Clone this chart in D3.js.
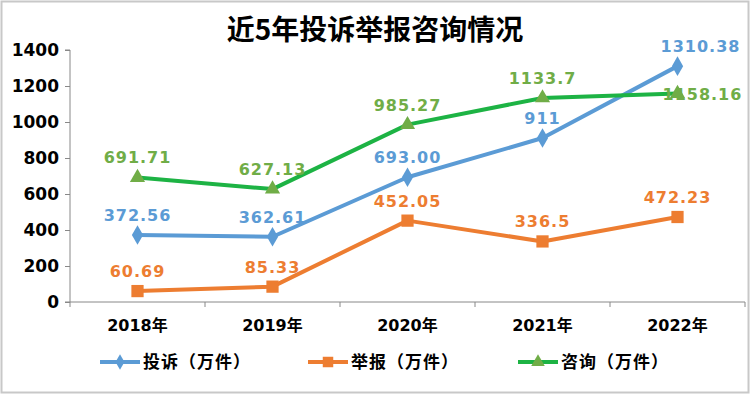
<!DOCTYPE html>
<html><head><meta charset="utf-8">
<script src="https://cdn.jsdelivr.net/npm/d3@7"></script>
<style>
html,body{margin:0;padding:0;background:#fff;}
svg{display:block;}
</style></head>
<body><svg id="c" width="750" height="394"></svg>
<script>
const title = "近5年投诉举报咨询情况";
const categories = ["2018年","2019年","2020年","2021年","2022年"];
const complaints = [372.56, 362.61, 693.00, 911, 1310.38];
const complaintLabels = ["372.56","362.61","693.00","911","1310.38"];
const reports = [60.69, 85.33, 452.05, 336.5, 472.23];
const reportLabels = ["60.69","85.33","452.05","336.5","472.23"];
const consults = [691.71, 627.13, 985.27, 1133.7, 1158.16];
const consultLabels = ["691.71","627.13","985.27","1133.7","1158.16"];
const seriesNames = ["投诉（万件）","举报（万件）","咨询（万件）"];
const yTicks = [0,200,400,600,800,1000,1200,1400];

(function(){
const svg = d3.select("#c");
const W = 750, H = 394;
svg.append("rect").attr("x",1.5).attr("y",1.5).attr("width",W-3).attr("height",H-3)
  .attr("fill","#fff").attr("stroke","#c8c8c8").attr("stroke-width",2);

const pl = 70, pr = 745, pt = 50, pb = 302;
const x = d3.scaleBand().domain(categories).range([pl,pr]);
const y = d3.scaleLinear().domain([0,1400]).range([pb,pt]);

svg.append("text").attr("x",375).attr("y",40).attr("text-anchor","middle")
  .attr("font-family","'Noto Sans CJK SC'").attr("font-weight","bold")
  .attr("font-size",28).attr("fill","#000").text(title);

const yAxis = svg.append("g").attr("transform",`translate(${pl},0)`)
  .call(d3.axisLeft(y).tickValues(yTicks).tickSize(5).tickPadding(6).tickFormat(d3.format("d")));
yAxis.select(".domain").attr("stroke","#888").attr("d",`M-5,${pt}H0V${pb}`);
yAxis.selectAll(".tick line").attr("stroke","#888");
yAxis.selectAll("text").attr("font-family","'DejaVu Sans'").attr("font-weight","bold")
  .attr("font-size",17).attr("fill","#000");

const xg = svg.append("g").attr("transform",`translate(0,${pb})`);
xg.append("line").attr("x1",pl-5).attr("x2",pr).attr("y1",0).attr("y2",0).attr("stroke","#888");
const bounds = categories.map(c=>x(c)).concat([pr]);
xg.selectAll("line.t").data(bounds).enter().append("line").attr("class","t")
  .attr("x1",d=>d).attr("x2",d=>d).attr("y1",0).attr("y2",5).attr("stroke","#888");
xg.selectAll("text").data(categories).enter().append("text")
  .attr("x",d=>x(d)+x.bandwidth()/2).attr("y",29).attr("text-anchor","middle")
  .attr("font-family","'DejaVu Sans','Noto Sans CJK SC'").attr("font-weight","bold")
  .attr("font-size",16).attr("fill","#000").text(d=>d);

const cx = c => x(c)+x.bandwidth()/2;
const line = d3.line().x((d,i)=>cx(categories[i])).y(d=>y(d));

const series = [
  {name:seriesNames[0], vals:complaints, labels:complaintLabels, color:"#5B9BD5", marker:"diamond", mcolor:"#5B9BD5", lcolor:"#5B9BD5"},
  {name:seriesNames[1], vals:reports, labels:reportLabels, color:"#ED7D31", marker:"square", mcolor:"#ED7D31", lcolor:"#ED7D31"},
  {name:seriesNames[2], vals:consults, labels:consultLabels, color:"#1DB344", marker:"triangle", mcolor:"#70AD47", lcolor:"#70AD47"}
];
const symType = {diamond:d3.symbolDiamond, square:d3.symbolSquare, triangle:d3.symbolTriangle};
const symSize = {diamond:110, square:150, triangle:100};
const legSize = {diamond:70, square:110, triangle:80};

series.forEach(s=>{
  svg.append("path").datum(s.vals).attr("d",line).attr("fill","none")
    .attr("stroke",s.color).attr("stroke-width",4).attr("stroke-linejoin","round");
});
series.forEach(s=>{
  svg.selectAll(null).data(s.vals).enter().append("path")
    .attr("d",d3.symbol().type(symType[s.marker]).size(symSize[s.marker]))
    .attr("transform",(d,i)=>`translate(${cx(categories[i])},${y(d)})`)
    .attr("fill",s.mcolor);
});
series.forEach((s,si)=>{
  svg.selectAll(null).data(s.vals).enter().append("text")
    .attr("x",(d,i)=>{
      if(si===2 && i===4) return cx(categories[i])-15;
      if(si===0 && i===4) return cx(categories[i])+23;
      return cx(categories[i]);
    })
    .attr("y",(d,i)=>{
      if(si===2 && i===4) return y(d)+6;
      return y(d)-14;
    })
    .attr("text-anchor",(d,i)=> (si===2&&i===4)?"start":"middle")
    .attr("font-family","'DejaVu Sans'").attr("font-weight","bold")
    .attr("font-size",16).attr("letter-spacing",1).attr("fill",s.lcolor)
    .text((d,i)=>s.labels[i]);
});

const legX = [100, 308, 518];
series.forEach((s,i)=>{
  const g = svg.append("g").attr("transform",`translate(${legX[i]},362)`);
  g.append("line").attr("x1",0).attr("x2",40).attr("stroke",s.color).attr("stroke-width",4);
  g.append("path").attr("d",d3.symbol().type(symType[s.marker]).size(legSize[s.marker]))
    .attr("transform","translate(20,0)").attr("fill",s.mcolor);
  g.append("text").attr("x",43).attr("y",6).attr("font-family","'Noto Sans CJK SC'")
    .attr("font-weight","bold").attr("font-size",17).attr("letter-spacing",1).attr("fill","#000").text(s.name);
});
})();
</script></body></html>
